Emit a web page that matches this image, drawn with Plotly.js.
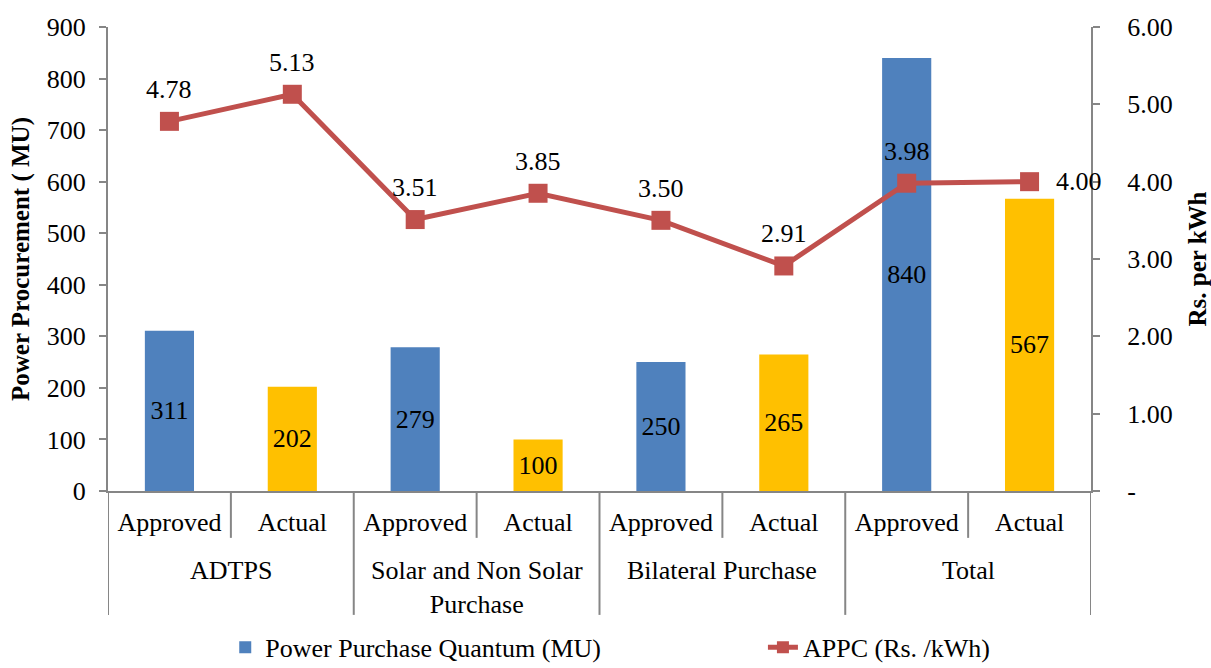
<!DOCTYPE html>
<html>
<head>
<meta charset="utf-8">
<script src="https://cdn.plot.ly/plotly-3.0.1.min.js"></script>
<style>html,body{margin:0;padding:0;background:#fff;}#chart{width:1211px;height:668px;}</style>
</head>
<body>
<div id="chart"></div>
<script>
// ---- data ----
const groups = ["ADTPS", "Solar and Non Solar<br>Purchase", "Bilateral Purchase", "Total"];
const categoryIds = ["c0","c1","c2","c3","c4","c5","c6","c7"];
const categoryLabels = ["Approved","Actual","Approved","Actual","Approved","Actual","Approved","Actual"];
const quantumMU = [311, 202, 279, 100, 250, 265, 840, 567];
const appcRs = [4.78, 5.13, 3.51, 3.85, 3.50, 2.91, 3.98, 4.00];
const appcLabels = ["4.78","5.13","3.51","3.85","3.50","2.91","3.98","4.00"];
const leftTicks = [0,100,200,300,400,500,600,700,800,900];
const rightTickVals = [0,1,2,3,4,5,6];
const rightTickText = ["-","1.00","2.00","3.00","4.00","5.00","6.00"];

const BLUE = "#4F81BD", GOLD = "#FFC000", RED = "#C0504D", AXIS = "#868686";
const FONT = "Liberation Serif";
const FS = 26;

const barColors = categoryLabels.map(l => l === "Approved" ? BLUE : GOLD);

const bars = {
  type: "bar",
  x: categoryIds,
  y: quantumMU,
  name: "Power Purchase Quantum (MU)",
  legend: "legend",
  marker: {color: barColors},
  width: 0.4,
  text: quantumMU.map(String),
  textposition: "inside",
  insidetextanchor: "middle",
  textfont: {family: FONT, size: FS, color: "#000"},
  hoverinfo: "skip"
};

const line = {
  type: "scatter",
  mode: "lines+markers",
  x: categoryIds,
  y: appcRs,
  yaxis: "y2",
  name: "APPC (Rs. /kWh)",
  legend: "legend2",
  line: {color: RED, width: 5},
  marker: {symbol: "square", size: 19, color: RED},
  hoverinfo: "skip"
};

// line value labels
const annotations = appcRs.map((v, i) => {
  const last = i === appcRs.length - 1;
  return {
    x: categoryIds[i], y: v, xref: "x", yref: "y2",
    text: appcLabels[i], showarrow: false,
    font: {family: FONT, size: FS, color: "#000"},
    xanchor: last ? "left" : "center",
    yanchor: "middle",
    xshift: last ? 24 : 0,
    yshift: last ? 0 : 32
  };
});

// group labels
groups.forEach((g, gi) => {
  annotations.push({
    x: gi * 2 + 0.5, y: -0.135, xref: "x", yref: "paper",
    text: g, showarrow: false, yanchor: "top", xanchor: "center",
    font: {family: FONT, size: FS, color: "#000"}
  });
});

// divider lines
const shapes = [];
for (let k = 0; k <= categoryIds.length; k++) {
  const xPos = k - 0.5;
  const isGroup = k % 2 === 0;
  shapes.push({
    type: "line", xref: "x", yref: "paper",
    x0: xPos, x1: xPos, y0: 0, y1: isGroup ? -0.267 : -0.101,
    line: {color: AXIS, width: 2}
  });
}

const legendCommon = {
  orientation: "h", xref: "container", yref: "container",
  xanchor: "left", y: 0.031, yanchor: "middle",
  font: {family: FONT, size: FS, color: "#000"},
  itemsizing: "constant", bgcolor: "rgba(0,0,0,0)"
};

const layout = {
  width: 1211, height: 668,
  margin: {l: 108, r: 120, t: 27, b: 177, pad: 0, autoexpand: false},
  paper_bgcolor: "#fff", plot_bgcolor: "#fff",
  font: {family: FONT, size: FS, color: "#000"},
  showlegend: true,
  bargap: 0.6,
  xaxis: {
    type: "category",
    tickvals: categoryIds, ticktext: categoryLabels,
    range: [-0.5, 7.5],
    showline: true, linecolor: AXIS, linewidth: 2,
    ticks: "", showgrid: false, zeroline: false,
    ticklabelstandoff: 7,
    tickfont: {family: FONT, size: FS, color: "#000"}
  },
  yaxis: {
    range: [0, 900], tickvals: leftTicks,
    showline: true, linecolor: AXIS, linewidth: 2,
    ticks: "outside", ticklen: 7, tickcolor: AXIS, tickwidth: 2,
    showgrid: false, zeroline: false,
    ticklabelstandoff: 8,
    tickfont: {family: FONT, size: FS, color: "#000"},
    title: {text: "<b>Power Procurement ( MU)</b>", font: {family: FONT, size: 25, color: "#000"}, standoff: 10}
  },
  yaxis2: {
    overlaying: "y", side: "right",
    range: [0, 6], tickvals: rightTickVals, ticktext: rightTickText,
    showline: true, linecolor: AXIS, linewidth: 2,
    ticks: "outside", ticklen: 7, tickcolor: AXIS, tickwidth: 2,
    showgrid: false, zeroline: false,
    ticklabelstandoff: 22,
    tickfont: {family: FONT, size: FS, color: "#000"},
    title: {text: "<b>Rs. per kWh</b>", font: {family: FONT, size: 25, color: "#000"}, standoff: 18}
  },
  legend: Object.assign({}, legendCommon, {x: 0.186}),
  legend2: Object.assign({}, legendCommon, {x: 0.630}),
  annotations: annotations,
  shapes: shapes
};

Plotly.newPlot("chart", [bars, line], layout, {displayModeBar: false, staticPlot: true});
</script>
</body>
</html>
